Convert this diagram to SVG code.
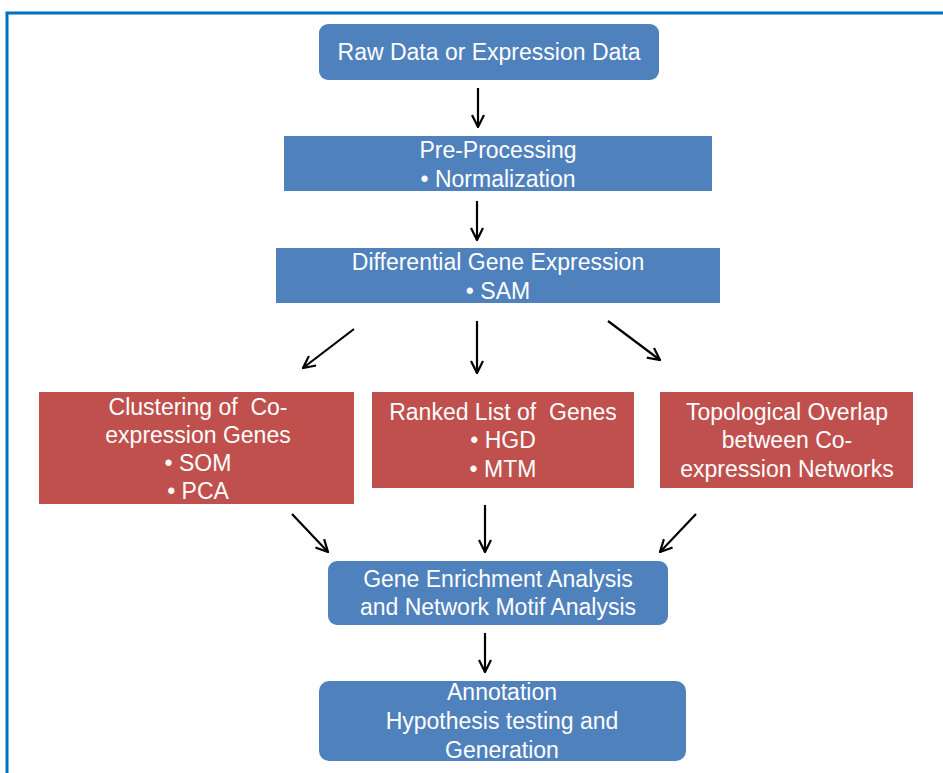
<svg xmlns="http://www.w3.org/2000/svg" width="943" height="773" viewBox="0 0 943 773">
  <style>
    .blue { fill: #4F81BD; }
    .red { fill: #C0504D; }
    .lbl { fill: #ffffff; font-family: "Liberation Sans", Arial, sans-serif; font-size: 23px; text-anchor: middle; white-space: pre; }
    .arrow { stroke: #000; stroke-width: 2.2; fill: none; marker-end: url(#head); }
  </style>
  <defs>
    <marker id="head" viewBox="0 0 14 14" refX="13" refY="7" markerWidth="14" markerHeight="14" markerUnits="userSpaceOnUse" orient="auto">
      <path d="M1,1 L13,7 L1,13" fill="none" stroke="#000" stroke-width="2.2"/>
    </marker>
  </defs>
  <rect width="943" height="773" fill="#ffffff"/>
  <!-- frame -->
  <path d="M7,773 V13 H943" fill="none" stroke="#0070C0" stroke-width="3"/>

  <g id="raw-data">
    <rect class="blue" x="319" y="24" width="340" height="56" rx="9"/>
    <text class="lbl" x="489" y="60">Raw Data or Expression Data</text>
  </g>
  <g id="pre-processing">
    <rect class="blue" x="284" y="136" width="428" height="55"/>
    <text class="lbl" x="498" y="158">Pre-Processing</text>
    <text class="lbl" x="498" y="187">• Normalization</text>
  </g>
  <g id="differential">
    <rect class="blue" x="276" y="248" width="444" height="55"/>
    <text class="lbl" x="498" y="270">Differential Gene Expression</text>
    <text class="lbl" x="498" y="299">• SAM</text>
  </g>
  <g id="clustering">
    <rect class="red" x="39" y="392" width="315" height="112"/>
    <text class="lbl" x="198" y="415">Clustering of  Co-</text>
    <text class="lbl" x="198" y="443">expression Genes</text>
    <text class="lbl" x="198" y="471">• SOM</text>
    <text class="lbl" x="198" y="499">• PCA</text>
  </g>
  <g id="ranked-list">
    <rect class="red" x="372" y="392" width="262" height="96"/>
    <text class="lbl" x="503" y="420">Ranked List of  Genes</text>
    <text class="lbl" x="503" y="448">• HGD</text>
    <text class="lbl" x="503" y="477">• MTM</text>
  </g>
  <g id="topological">
    <rect class="red" x="660" y="392" width="253" height="96"/>
    <text class="lbl" x="787" y="420">Topological Overlap</text>
    <text class="lbl" x="787" y="448">between Co-</text>
    <text class="lbl" x="787" y="477">expression Networks</text>
  </g>
  <g id="enrichment">
    <rect class="blue" x="328" y="561" width="340" height="64" rx="9"/>
    <text class="lbl" x="498" y="587">Gene Enrichment Analysis</text>
    <text class="lbl" x="498" y="615">and Network Motif Analysis</text>
  </g>
  <g id="annotation">
    <rect class="blue" x="319" y="681" width="367" height="80" rx="10"/>
    <text class="lbl" x="502" y="700">Annotation</text>
    <text class="lbl" x="502" y="729">Hypothesis testing and</text>
    <text class="lbl" x="502" y="758">Generation</text>
  </g>

  <g id="connectors">
    <line class="arrow" x1="478" y1="88" x2="478" y2="127"/>
    <line class="arrow" x1="477" y1="201" x2="477" y2="240"/>
    <line class="arrow" x1="354" y1="329" x2="303" y2="368"/>
    <line class="arrow" x1="477" y1="321" x2="477" y2="373"/>
    <line class="arrow" x1="608" y1="321" x2="660" y2="360"/>
    <line class="arrow" x1="292" y1="514" x2="328" y2="552"/>
    <line class="arrow" x1="485" y1="505" x2="485" y2="552"/>
    <line class="arrow" x1="696" y1="514" x2="660" y2="552"/>
    <line class="arrow" x1="485" y1="633" x2="485" y2="672"/>
  </g>
</svg>
